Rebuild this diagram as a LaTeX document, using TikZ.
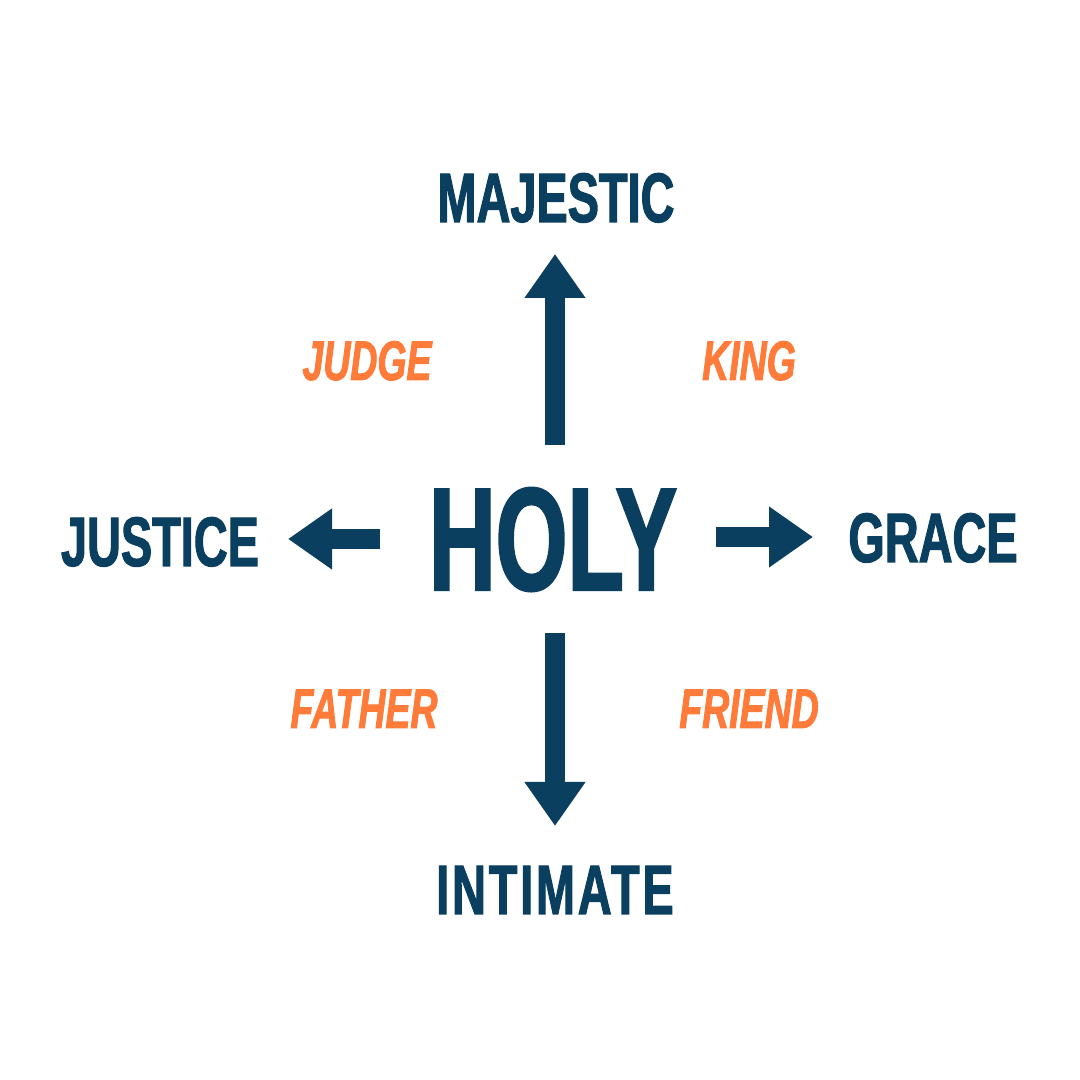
\documentclass[tikz,border=0pt]{standalone}
\usepackage{fontspec}
\usepackage{tikz}
\usetikzlibrary{arrows.meta}
\newfontfamily\wordfont[FakeStretch=0.67, FakeBold=1.5]{Liberation Sans}
\newfontfamily\holyfont[FakeStretch=0.63, FakeBold=1.5]{Liberation Sans}
\definecolor{navy}{HTML}{0A3F5F}
\definecolor{tangerine}{HTML}{FF7B3A}
\tikzset{
  bigword/.style={anchor=base, text=navy, font=\wordfont\bfseries\fontsize{19.9}{20}\selectfont, inner sep=0pt},
  smallword/.style={anchor=base, text=tangerine, font=\wordfont\bfseries\itshape\fontsize{15.9}{16}\selectfont, inner sep=0pt},
  fatarrow/.style={draw=navy, line width=0.2cm, -{Triangle[length=0.44cm, width=0.58cm]}}
}

\begin{document}
\begin{tikzpicture}
\useasboundingbox (0,0) rectangle (10.8,10.8);

\node[anchor=base, text=navy, font=\holyfont\bfseries\fontsize{41.7}{42}\selectfont, inner sep=0pt] (holy) at (5.53,4.90) {HOLY};

\node[bigword] (majestic) at (5.56,8.58) {MAJESTIC};
\node[bigword] (justice) at (1.60,5.14) {JUSTICE};
\node[bigword] (grace) at (9.33,5.18) {GRACE};
\node[bigword] (intimate) at (5.55,1.66) {\addfontfeature{LetterSpace=4}INTIMATE};

\node[smallword] (judge) at (3.67,7.00) {JUDGE};
\node[smallword] (king) at (7.49,7.00) {KING};
\node[smallword] (father) at (3.64,3.52) {FATHER};
\node[smallword] (friend) at (7.49,3.52) {FRIEND};

\coordinate (upS) at (5.55,6.35);
\coordinate (upE) at (5.55,8.26);
\coordinate (downS) at (5.55,4.47);
\coordinate (downE) at (5.55,2.54);
\coordinate (leftS) at (3.80,5.41);
\coordinate (leftE) at (2.88,5.41);
\coordinate (rightS) at (7.16,5.43);
\coordinate (rightE) at (8.13,5.43);

\draw[fatarrow] (upS) -- (upE); %%Up
\draw[fatarrow] (downS) -- (downE); %%Down
\draw[fatarrow] (leftS) -- (leftE); %%Left
\draw[fatarrow] (rightS) -- (rightE); %%Right
\end{tikzpicture}
\end{document}
